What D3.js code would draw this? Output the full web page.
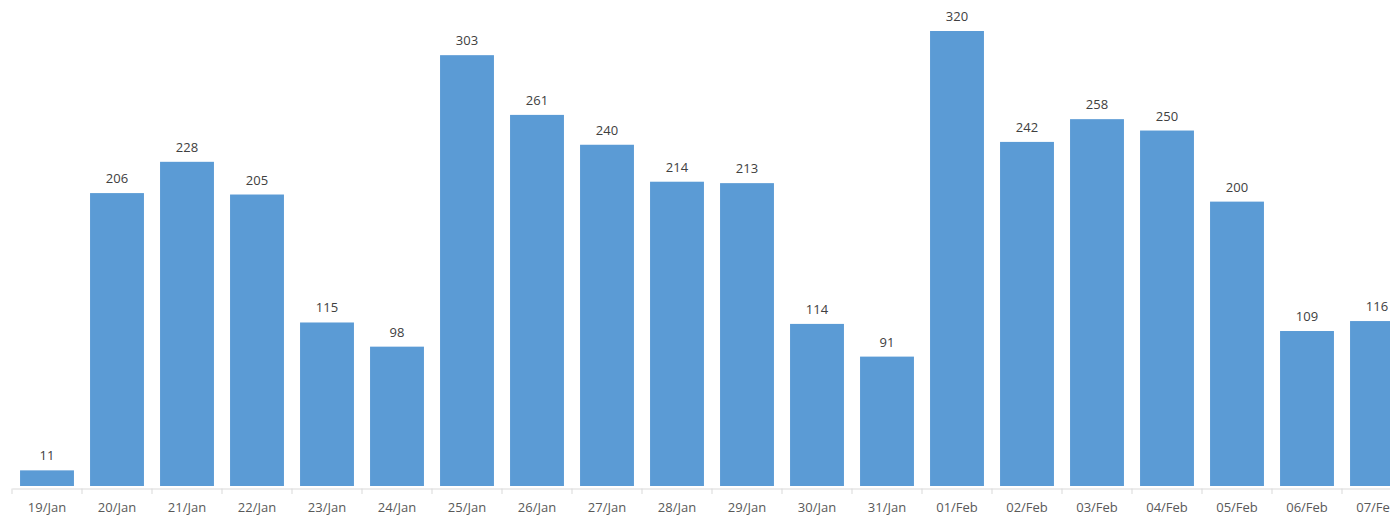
<!DOCTYPE html>
<html><head><meta charset="utf-8">
<script src="https://cdn.jsdelivr.net/npm/d3@7"></script>
<style>html,body{margin:0;padding:0;background:#fff;overflow:hidden}</style>
</head><body>
<svg id="c" width="1390" height="518"></svg>
<script>
const categories = ["19/Jan","20/Jan","21/Jan","22/Jan","23/Jan","24/Jan","25/Jan","26/Jan","27/Jan","28/Jan","29/Jan","30/Jan","31/Jan","01/Feb","02/Feb","03/Feb","04/Feb","05/Feb","06/Feb","07/Feb"];
const values = [11,206,228,205,115,98,303,261,240,214,213,114,91,320,242,258,250,200,109,116];

const svg = d3.select("#c");
const x = d3.scaleBand().domain(categories).range([12, 1412]).paddingInner(0.23).paddingOuter(0.115);
const y = d3.scaleLinear().domain([0, 320]).range([486, 31]);

svg.append("g").selectAll("rect").data(values).join("rect")
  .attr("x", (d,i) => x(categories[i]))
  .attr("width", x.bandwidth())
  .attr("y", d => y(d))
  .attr("height", d => y(0) - y(d))
  .attr("fill", "#5B9BD5");

svg.append("g").selectAll("text").data(values).join("text")
  .attr("x", (d,i) => x(categories[i]) + x.bandwidth()/2)
  .attr("y", d => y(d) - 10)
  .attr("text-anchor", "middle")
  .attr("font-family", "Open Sans, sans-serif")
  .attr("font-size", 13)
  .attr("fill", "#404040")
  .text(d => d);

const xb = d3.scaleBand().domain(categories).range([12, 1412]);
const ax = svg.append("g").attr("transform", "translate(0,488.5)")
  .call(d3.axisBottom(xb).tickSize(0).tickPadding(14));
ax.select(".domain").attr("stroke", "#d9d9d9");
ax.selectAll("text").attr("font-family", "Open Sans, sans-serif").attr("font-size", 13).attr("fill", "#595959");
// boundary ticks between categories
svg.append("g").selectAll("line").data(categories.concat(["end"])).join("line")
  .attr("x1", (d,i) => 12 + i*xb.step()).attr("x2", (d,i) => 12 + i*xb.step())
  .attr("y1", 488.5).attr("y2", 494)
  .attr("stroke", "#d9d9d9");
</script>
</body></html>
